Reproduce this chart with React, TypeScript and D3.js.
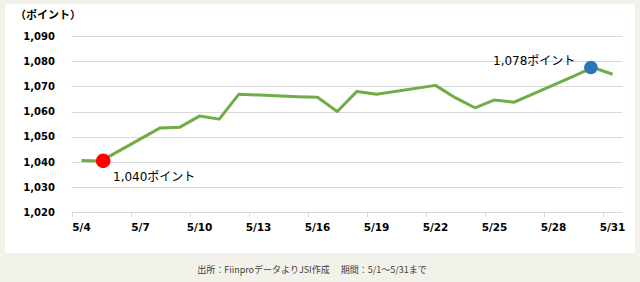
import React from "react";
import * as d3 from "d3";

const days = [4, 5, 8, 9, 10, 11, 12, 15, 16, 17, 18, 19, 22, 23, 24, 25, 26, 29, 30, 31];
const values = [1040.6, 1040.4, 1053.5, 1053.8, 1058.2, 1057.0, 1066.9, 1065.9, 1065.7, 1060.0, 1068.0, 1066.9, 1070.4, 1065.5, 1061.5, 1064.6, 1063.7, 1074.0, 1077.5, 1074.8];
const xTicks = [4, 7, 10, 13, 16, 19, 22, 25, 28, 31];
const yTicks = [1020, 1030, 1040, 1050, 1060, 1070, 1080, 1090];
const lowAnno = { day: 5, value: 1040.4, label: "1,040ポイント" };
const highAnno = { day: 30, value: 1077.5, label: "1,078ポイント" };
const yUnit = "（ポイント）";
const footer = "出所：FiinproデータよりJSI作成　 期間：5/1～5/31まで";

export default function App() {
  const W = 640, H = 282;
  const x = d3.scaleLinear().domain([4, 32]).range([71.7, 622.4]);
  const y = d3.scaleLinear().domain([1020, 1090]).range([212.3, 36]);
  const pts: [number, number][] = days.map((d, i) => [x(d + 0.5), y(values[i])]);
  const line = d3.line<[number, number]>().x(p => p[0]).y(p => p[1])(pts) || "";
  const tickFont = "'DejaVu Sans', Verdana, sans-serif";
  const jpFont = "'Noto Sans CJK JP', 'Noto Sans', sans-serif";
  const annoFont = "'DejaVu Sans', 'Noto Sans CJK JP', sans-serif";
  return (
    <svg width={W} height={H} style={{ position: "absolute", left: 0, top: 0 }}>
      <rect x={0} y={0} width={W} height={H} fill="#f3f2ea" />
      <rect x={5} y={4} width={630} height={249} fill="#ffffff" />
      {yTicks.filter(t => t !== 1020).map(t => (
        <line key={t} x1={x(4)} x2={x(32)} y1={Math.round(y(t)) + 0.5} y2={Math.round(y(t)) + 0.5} stroke="#d9d9d9" strokeWidth={1} />
      ))}
      <line x1={x(4)} x2={x(32)} y1={Math.round(y(1020)) + 0.5} y2={Math.round(y(1020)) + 0.5} stroke="#d9d9d9" strokeWidth={1} />
      {xTicks.map(t => (
        <line key={t} x1={Math.round(x(t)) + 0.5} x2={Math.round(x(t)) + 0.5} y1={Math.round(y(1020))} y2={Math.round(y(1020)) + 5} stroke="#d9d9d9" strokeWidth={1} />
      ))}
      {yTicks.map(t => (
        <text key={t} x={55} y={y(t)} dy="0.36em" textAnchor="end" fontFamily={tickFont} fontWeight="bold" fontSize={10} fill="#000">
          {d3.format(",")(t)}
        </text>
      ))}
      {xTicks.map(t => (
        <text key={t} x={x(t + 0.5)} y={230.7} textAnchor="middle" fontFamily={tickFont} fontWeight="bold" fontSize={10.5} fill="#000">
          {`5/${t}`}
        </text>
      ))}
      <text x={15} y={19} fontFamily={jpFont} fontWeight="bold" fontSize={11} fill="#000">{yUnit}</text>
      <path d={line} fill="none" stroke="#70ad47" strokeWidth={3} strokeLinejoin="round" />
      <circle cx={x(lowAnno.day + 0.5) + 2} cy={y(lowAnno.value)} r={7.3} fill="#ff0000" />
      <circle cx={x(highAnno.day + 0.5) - 2} cy={y(highAnno.value)} r={6.8} fill="#2e75b6" />
      <text x={113} y={181} fontFamily={annoFont} fontSize={12} fill="#000">{lowAnno.label}</text>
      <text x={493} y={65} fontFamily={annoFont} fontSize={12} fill="#000">{highAnno.label}</text>
      <text x={312} y={273} textAnchor="middle" fontFamily={jpFont} fontSize={9} fill="#404040">{footer}</text>
    </svg>
  );
}
